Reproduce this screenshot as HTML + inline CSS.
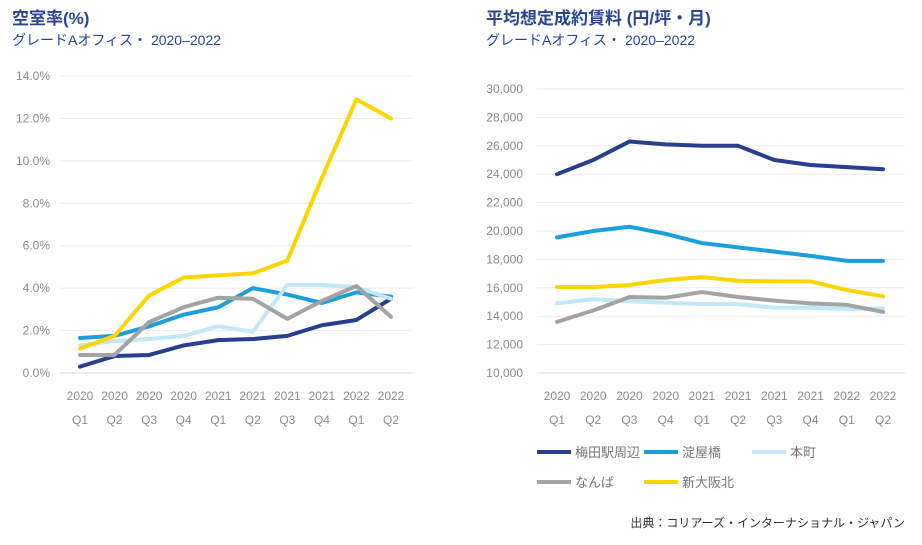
<!DOCTYPE html>
<html><head><meta charset="utf-8"><style>
body{margin:0;background:#fff;width:922px;height:540px;overflow:hidden;font-family:"Liberation Sans","Noto Sans CJK JP",sans-serif}
svg text{font-family:"Liberation Sans","Noto Sans CJK JP",sans-serif}
</style></head><body>
<svg id="c" width="922" height="540">
<text x="12" y="24" font-size="17" font-weight="bold" fill="#2b4590">空室率(%)</text>
<text x="12" y="45" font-size="14" fill="#2b4590">グレードAオフィス・ 2020–2022</text>
<text x="486" y="24" font-size="17" font-weight="bold" fill="#2b4590">平均想定成約賃料 (円/坪・月)</text>
<text x="486" y="45" font-size="14" fill="#2b4590">グレードAオフィス・ 2020–2022</text>
<text x="905" y="527" font-size="12" fill="#333" text-anchor="end">出典：コリアーズ・インターナショナル・ジャパン</text>
</svg>
<script>
const cats=["Q1","Q2","Q3","Q4","Q1","Q2","Q3","Q4","Q1","Q2"];
const years=["2020","2020","2020","2020","2021","2021","2021","2021","2022","2022"];
const seriesNames=["梅田駅周辺","淀屋橋","本町","なんば","新大阪北"];
const colors=["#263f8e","#1a9fdb","#c2e7f8","#a3a3a3","#fcd500"];
const vUmeda=[0.3,0.8,0.85,1.3,1.55,1.6,1.75,2.25,2.5,3.5];
const vYodo=[1.65,1.75,2.2,2.75,3.1,4.0,3.7,3.3,3.8,3.6];
const vHonmachi=[1.3,1.5,1.6,1.75,2.2,1.95,4.15,4.15,4.05,3.5];
const vNanba=[0.85,0.85,2.4,3.1,3.55,3.5,2.55,3.4,4.1,2.65];
const vShin=[1.15,1.75,3.65,4.5,4.6,4.7,5.3,9.2,12.9,12.0];
const rUmeda=[24000,25000,26300,26100,26000,26000,25000,24650,24500,24350];
const rYodo=[19550,20000,20300,19800,19150,18850,18550,18250,17900,17900];
const rHonmachi=[14900,15200,15050,14950,14850,14850,14600,14600,14500,14550];
const rNanba=[13600,14400,15350,15300,15700,15350,15100,14900,14800,14300];
const rShin=[16050,16050,16200,16550,16750,16500,16450,16450,15850,15400];
const leftTicks=[0,2,4,6,8,10,12,14];
const rightTicks=[10000,12000,14000,16000,18000,20000,22000,24000,26000,28000,30000];
const NS="http://www.w3.org/2000/svg";
const svg=document.getElementById('c');
function mk(t,a){const e=document.createElementNS(NS,t);for(const k in a)e.setAttribute(k,a[k]);svg.appendChild(e);return e;}
function chart(key,x0,x1,y0,y1,vmin,vmax,ticks,fmt,series,labX){
  const xs=i=>x0+(x1-x0)*i/(cats.length-1);
  const ys=v=>y0+(y1-y0)*(v-vmin)/(vmax-vmin);
  ticks.forEach(t=>{
    const g=mk('line',{x1:x0-20,x2:x1+22,y1:ys(t),y2:ys(t),stroke:t===vmin?'#d9d9d9':'#ececec','stroke-width':1});
    
    
    const l=mk('text',{x:labX,y:ys(t)+4,'font-size':12,fill:'#8a8a8a','text-anchor':'end'});
    l.textContent=fmt(t);
    
    
  });
  cats.forEach((c,i)=>{
    const a=mk('text',{x:xs(i),y:y0+27,'font-size':12,fill:'#8a8a8a','text-anchor':'middle'});a.textContent=years[i];
    
    
    const b=mk('text',{x:xs(i),y:y0+51,'font-size':12,fill:'#8a8a8a','text-anchor':'middle'});b.textContent=c;
    
    
  });
  series.forEach((s,k)=>{
    const p=mk('polyline',{points:s.map((v,i)=>xs(i)+','+ys(v)).join(' '),fill:'none',stroke:colors[k],'stroke-width':4,'stroke-linejoin':'round','stroke-linecap':'round'});
    
    
  });
}
chart('vacancy',80,391,373,76,0,14,leftTicks,t=>t.toFixed(1)+'%',[vUmeda,vYodo,vHonmachi,vNanba,vShin],50);
chart('rent',557,883,373,89,10000,30000,rightTicks,t=>t.toLocaleString('en-US'),[rUmeda,rYodo,rHonmachi,rNanba,rShin],523);
const lp=[[537,452],[644,452],[752,452],[537,482],[644,482]];
seriesNames.forEach((n,k)=>{
  const l=mk('line',{x1:lp[k][0],x2:lp[k][0]+34,y1:lp[k][1],y2:lp[k][1],stroke:colors[k],'stroke-width':4});
  
  
  const t=mk('text',{x:lp[k][0]+38,y:lp[k][1]+5,'font-size':13,fill:'#777'});t.textContent=n;
  
  
});
</script>
</body></html>
